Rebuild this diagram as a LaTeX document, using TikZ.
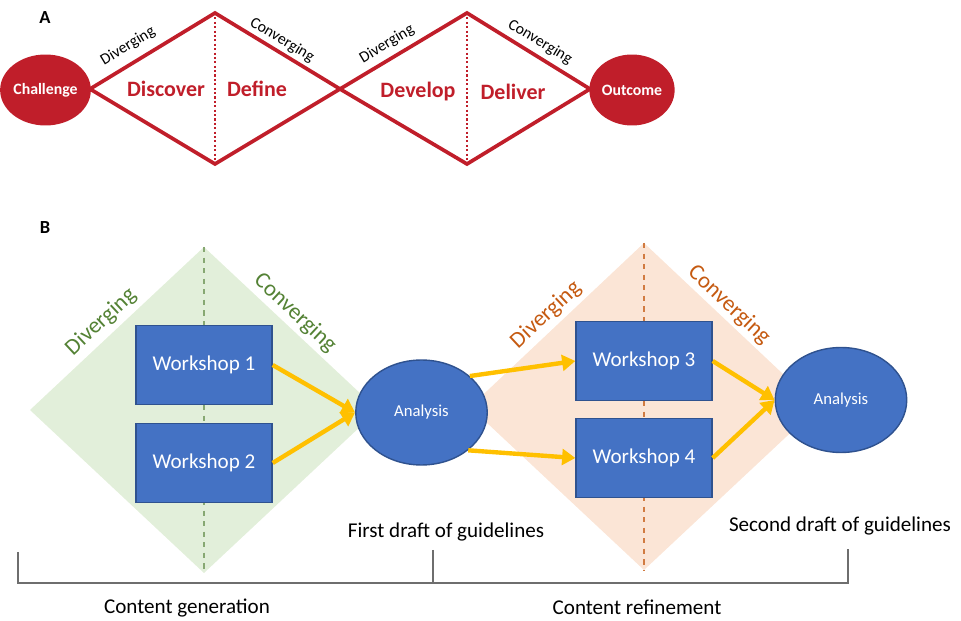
\documentclass[tikz,border=0pt]{standalone}
\usepackage{fontspec}
\setmainfont{Carlito}
\usetikzlibrary{shapes.geometric,arrows.meta}
\definecolor{ddred}{RGB}{192,30,42}
\definecolor{boxblue}{RGB}{68,114,196}
\definecolor{boxline}{RGB}{47,82,143}
\definecolor{arrowyellow}{RGB}{255,192,0}
\definecolor{divgreen}{RGB}{226,239,218}
\definecolor{textgreen}{RGB}{84,130,53}
\definecolor{divorange}{RGB}{251,229,214}
\definecolor{textorange}{RGB}{197,90,17}
\definecolor{bracketgray}{RGB}{110,110,110}

\begin{document}
\begin{tikzpicture}[x=0.02cm, y=-0.02cm,
  redline/.style={draw=ddred, line width=2.1pt, line join=miter},
  phase/.style={text=ddred, anchor=base, font=\fontsize{12.5}{15}\selectfont\bfseries},
  smalllabel/.style={font=\fontsize{9}{11}\selectfont},
  endpoint/.style={ellipse, fill=ddred, inner sep=0pt, minimum width=1.62cm, minimum height=1.42cm, text=white, font=\fontsize{9}{11}\selectfont\bfseries},
  wsbox/.style={rectangle, draw=boxline, fill=boxblue, line width=0.8pt, minimum width=2.72cm, minimum height=1.58cm, text=white, font=\fontsize{12}{14}\selectfont},
  anbox/.style={ellipse, draw=boxline, fill=boxblue, line width=0.8pt, inner sep=0pt, minimum width=2.63cm, minimum height=2.1cm, text=white, font=\fontsize{9.5}{11}\selectfont},
  flow/.style={draw=arrowyellow, line width=2.5pt, -{Triangle[length=7.5pt, width=9pt]}},
  bigtext/.style={font=\fontsize{12}{14}\selectfont},
  sidetext/.style={font=\fontsize{13}{15}\selectfont}]

\useasboundingbox (0,0) rectangle (961,621);

% panel A
\node[font=\fontsize{10.5}{12}\selectfont\bfseries] (labA) at (45,18) {A};
\coordinate (d1l) at (90,89);
\coordinate (d1t) at (215,13);
\coordinate (d1b) at (215,164);
\coordinate (dmid) at (340,89);
\coordinate (d2t) at (467,13);
\coordinate (d2b) at (467,164);
\coordinate (d2r) at (590,89);
\draw[redline] (d1l) -- (d1t) -- (dmid) -- (d2t) -- (d2r) -- (d2b) -- (dmid) -- (d1b) -- cycle;
\draw[ddred, line width=1pt, dash pattern=on 1.2pt off 1.3pt] (d1t) -- (d1b);
\draw[ddred, line width=1pt, dash pattern=on 1.2pt off 1.3pt] (d2t) -- (d2b);

\node[endpoint] (chal) at (45.5,90) {Challenge};
\node[endpoint] (outc) at (632,90) {Outcome};

\node[phase] (disc) at (166,97) {Discover};
\node[phase] (defi) at (257,97) {Define};
\node[phase] (deve) at (418,98) {Develop};
\node[phase] (deli) at (513,100) {Deliver};

\node[smalllabel, rotate=31] (div1) at (128,46) {Diverging};
\node[smalllabel, rotate=-31] (con1) at (282,40) {Converging};
\node[smalllabel, rotate=31] (div2) at (387,44) {Diverging};
\node[smalllabel, rotate=-31] (con2) at (540,42) {Converging};

% panel B
\node[font=\fontsize{10.5}{12}\selectfont\bfseries] (labB) at (45,228) {B};

% diamonds
\fill[divgreen] (30,410) -- (204,247) -- (378,410) -- (204,573) -- cycle;
\draw[textgreen!70, dashed, line width=0.6pt] (204,247) -- (204,573);
\fill[divorange] (470,407) -- (644,243) -- (818,407) -- (644,570) -- cycle;
\draw[textorange!80, dashed, line width=0.6pt] (644,243) -- (644,570);

\node[sidetext, text=textgreen, rotate=43] (div3) at (101,322) {Diverging};
\node[sidetext, text=textgreen, rotate=-43] (con3) at (295,313) {Converging};
\node[sidetext, text=textorange, rotate=43] (div4) at (546,315) {Diverging};
\node[sidetext, text=textorange, rotate=-43] (con4) at (729,305) {Converging};

% workshops and analysis
\node[wsbox] (ws1) at (204,365) {Workshop 1};
\node[wsbox] (ws2) at (204,463) {Workshop 2};
\node[wsbox] (ws3) at (644,361) {Workshop 3};
\node[wsbox] (ws4) at (644,458) {Workshop 4};
\node[anbox] (an1) at (421.5,412.5) {Analysis};
\node[anbox] (an2) at (841,400) {Analysis};

\draw[flow] (ws1.east) -- (an1.west);
\draw[flow] (ws2.east) -- (an1.west);
\draw[flow] (an1.37) -- (ws3.west);
\draw[flow] (an1.-39) -- (ws4.west);
\draw[flow] (ws3.east) -- (an2.west);
\draw[flow] (ws4.east) -- (an2.west);

\node[bigtext] (draft1) at (446,532) {First draft of guidelines};
\node[bigtext] (draft2) at (840,526) {Second draft of guidelines};

% bracket
\coordinate (brl) at (18,552);
\coordinate (brm) at (433,550);
\coordinate (brr) at (848,549);
\draw[bracketgray, line width=0.7pt] (brl) -- (18,583) -- (848,583) -- (brr);
\draw[bracketgray, line width=0.7pt] (brm) -- (433,583);

\node[bigtext] (gen) at (187,608) {Content generation};
\node[bigtext] (ref) at (637,607) {Content refinement};
\end{tikzpicture}
\end{document}
